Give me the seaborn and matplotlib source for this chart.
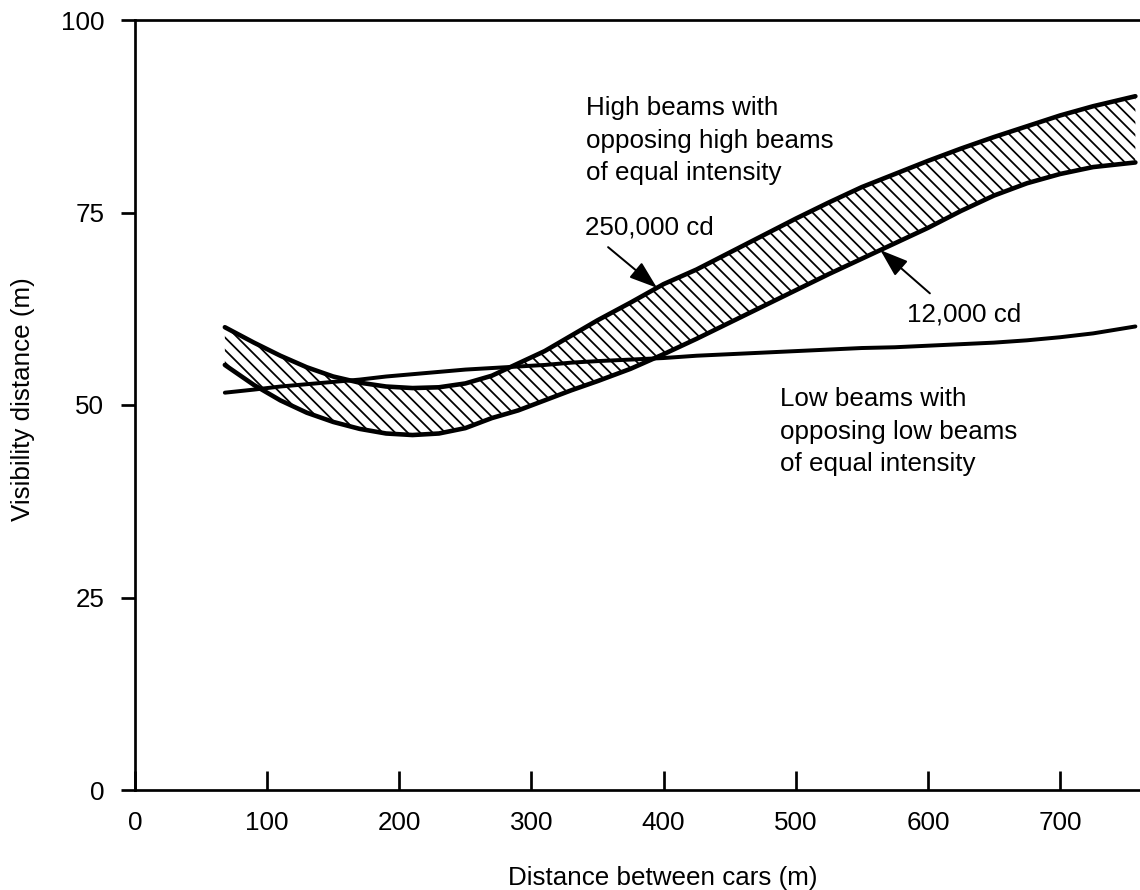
import numpy as np
import pandas as pd
import matplotlib
matplotlib.use('Agg')
import matplotlib.pyplot as plt
import seaborn as sns

# data
distance = [68, 90, 110, 130, 150, 170, 190, 210, 230, 250, 270, 290, 310, 330, 350,
            375, 400, 425, 450, 475, 500, 525, 550, 575, 600, 625, 650, 675, 700, 725, 757]
high_250k = [60.1, 58.1, 56.4, 54.9, 53.7, 52.9, 52.4, 52.2, 52.3, 52.8, 53.8, 55.4, 57.0,
             59.0, 61.0, 63.3, 65.7, 67.6, 69.8, 72.0, 74.2, 76.3, 78.3, 80.0, 81.7, 83.3,
             84.8, 86.2, 87.6, 88.8, 90.1]
high_12k = [55.2, 52.6, 50.6, 49.0, 47.8, 46.9, 46.3, 46.1, 46.3, 47.0, 48.3, 49.3, 50.6,
            51.9, 53.1, 54.7, 56.6, 58.6, 60.7, 62.8, 64.9, 67.0, 69.0, 71.0, 73.0, 75.2,
            77.2, 78.8, 80.0, 80.9, 81.5]
low_beams = [51.6, 52.0, 52.4, 52.7, 53.0, 53.3, 53.7, 54.0, 54.3, 54.6, 54.8, 55.0, 55.2,
             55.5, 55.7, 55.9, 56.1, 56.4, 56.6, 56.8, 57.0, 57.2, 57.4, 57.5, 57.7, 57.9,
             58.1, 58.4, 58.8, 59.3, 60.2]

x_ticks = [0, 100, 200, 300, 400, 500, 600, 700]
y_ticks = [0, 25, 50, 75, 100]

df = pd.DataFrame({'distance': distance, 'high_250k': high_250k,
                   'high_12k': high_12k, 'low': low_beams})

DPI = 75
FS = 25

sns.set_style('white')
plt.rcParams['font.family'] = ['Liberation Sans', 'DejaVu Sans']
plt.rcParams['text.color'] = 'black'
plt.rcParams['hatch.linewidth'] = 1.7
plt.rcParams['hatch.color'] = 'black'

fig = plt.figure(figsize=(1140 / DPI, 890 / DPI), dpi=DPI)
ax = fig.add_axes([135 / 1140, 100 / 890, 1005 / 1140, 770 / 890])

# hatched band between the two high beam curves
ax.fill_between(df['distance'], df['high_12k'], df['high_250k'], facecolor='white',
                edgecolor='black', hatch='\\\\', linewidth=0)

sns.lineplot(data=df, x='distance', y='high_250k', color='black', lw=4.4,
             solid_capstyle='round', ax=ax)
sns.lineplot(data=df, x='distance', y='high_12k', color='black', lw=4.4,
             solid_capstyle='round', ax=ax)
sns.lineplot(data=df, x='distance', y='low', color='black', lw=3.8,
             solid_capstyle='round', ax=ax)

ax.set_xlim(0, 760.5)
ax.set_ylim(0, 100)
ax.set_xticks(x_ticks)
ax.set_yticks(y_ticks)

for side in ['left', 'bottom', 'top']:
    ax.spines[side].set_linewidth(2.6)
    ax.spines[side].set_color('black')
ax.spines['right'].set_visible(False)

ax.tick_params(axis='y', direction='out', length=13.5, width=2.6, pad=16,
               labelsize=FS, colors='black', left=True)
ax.tick_params(axis='x', direction='in', length=18, width=2.6, pad=20,
               labelsize=FS, colors='black', bottom=True)

ax.set_xlabel('Distance between cars (m)', fontsize=FS, color='black')
ax.set_ylabel('Visibility distance (m)', fontsize=FS, color='black')
ax.xaxis.label.set_verticalalignment('baseline')
ax.xaxis.set_label_coords(0.525, -0.1234)
ax.yaxis.label.set_verticalalignment('center')
ax.yaxis.set_label_coords(-0.1114, 0.508)

ax.text(341, 90.1, 'High beams with\nopposing high beams\nof equal intensity',
        fontsize=FS, va='top', ha='left', linespacing=1.45)
ax.text(340.5, 72.2, '250,000 cd', fontsize=FS, va='baseline', ha='left')
ax.text(584, 60.8, '12,000 cd', fontsize=FS, va='baseline', ha='left')
ax.text(488, 52.3, 'Low beams with\nopposing low beams\nof equal intensity',
        fontsize=FS, va='top', ha='left', linespacing=1.45)

# arrows pointing at the two high beam curves
arrow = dict(arrowstyle='-|>,head_length=1.15,head_width=0.4', color='black', lw=1.9,
             mutation_scale=20, shrinkA=0, shrinkB=0)
x_tip = 395
ax.annotate('', xy=(x_tip, np.interp(x_tip, distance, high_250k)), xytext=(358, 70.5),
            arrowprops=arrow)
x_tip = 564
ax.annotate('', xy=(x_tip, np.interp(x_tip, distance, high_12k)), xytext=(601.5, 64.5),
            arrowprops=arrow)

plt.savefig('out.png', dpi=DPI)
